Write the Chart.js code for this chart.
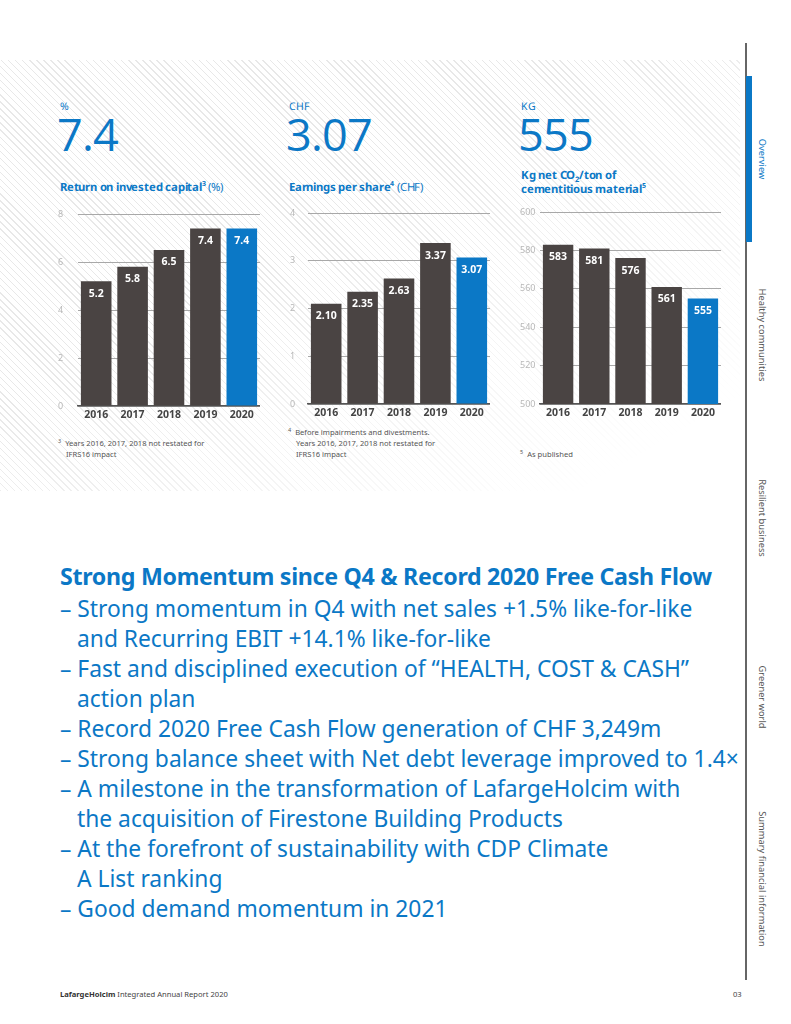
<!DOCTYPE html>
<html>
<head>
<meta charset="utf-8">
<script src="https://cdn.jsdelivr.net/npm/chart.js@4.4.1/dist/chart.umd.min.js"></script>
<style>
  @font-face { font-family:'BigNum'; src: local('Open Sans Regular'), local('OpenSans-Regular'), local('Open Sans');
    ascent-override:75%; descent-override:0%; line-gap-override:0%; }
  @font-face { font-family:'UnitFont'; src: local('Noto Sans Regular'), local('NotoSans-Regular'), local('Noto Sans');
    ascent-override:80%; descent-override:5%; line-gap-override:0%; }
  @font-face { font-family:'SubFont'; font-weight:700; src: local('Noto Sans Bold'), local('NotoSans-Bold');
    ascent-override:85%; descent-override:20%; line-gap-override:0%; }
  @font-face { font-family:'SubFont'; font-weight:400; src: local('Noto Sans Regular'), local('NotoSans-Regular'), local('Noto Sans');
    ascent-override:85%; descent-override:20%; line-gap-override:0%; }
  html, body { margin:0; padding:0; background:#fff; }
  body { width:791px; height:1024px; position:relative; overflow:hidden; font-family:"Noto Sans","Open Sans",sans-serif; }
  .abs { position:absolute; }
  .hatch { left:0; top:60px; width:740px; height:431px;
    background: repeating-linear-gradient(45deg, #e8e8e8 0px, #e8e8e8 1px, rgba(255,255,255,0) 1px, rgba(255,255,255,0) 5px);
    -webkit-mask-image: linear-gradient(to bottom right, #000 40%, rgba(0,0,0,0) 90%);
    mask-image: linear-gradient(to bottom right, #000 40%, rgba(0,0,0,0) 90%); }
  .unit { font-family:'UnitFont',"Noto Sans",sans-serif; font-size:10.5px; color:#0b78c6; line-height:12px; }
  .big { font-family:'BigNum',"Open Sans",sans-serif; font-weight:400; font-size:45px; color:#0b78c6; line-height:1; letter-spacing:-1px; }
  .sub { font-family:'SubFont',"Noto Sans",sans-serif; font-size:11.3px; font-weight:700; color:#0b78c6; line-height:14px; letter-spacing:-0.2px; }
  .sub sup, .sub sub { line-height:0; }
  .sub span.r { font-weight:400; }
  .fn { font-size:7.6px; color:#555; line-height:11px; }
  .fn sup { font-size:5.5px; vertical-align:top; position:relative; top:-2px; margin-right:4px; }
  canvas { position:absolute; }
  .head { left:60px; top:560px; font-size:23.2px; font-weight:700; color:#0b78c6; letter-spacing:-0.3px; white-space:nowrap; }
  .bul { left:60px; top:594px; font-size:22.8px; color:#0b78c6; line-height:30px; }
  .bul div { padding-left:17px; text-indent:-17px; white-space:nowrap; }
  .side { writing-mode:vertical-rl; font-size:9.3px; color:#555; white-space:nowrap; transform:translate(-50%,-50%); }
  .foot { left:60px; top:989px; font-size:7.6px; color:#444; }
</style>
</head>
<body>
<div class="abs hatch"></div>

<!-- KPI headers -->
<div class="abs unit" style="left:60px;top:101px;">%</div>
<div class="abs big" style="left:57px;top:112px;">7.4</div>
<div class="abs sub" style="left:60px;top:180px;">Return on invested capital<sup style="font-size:7px">3</sup> <span class="r">(%)</span></div>

<div class="abs unit" style="left:289px;top:101px;">CHF</div>
<div class="abs big" style="left:286px;top:112px;">3.07</div>
<div class="abs sub" style="left:289px;top:180px;">Earnings per share<sup style="font-size:7px">4</sup> <span class="r">(CHF)</span></div>

<div class="abs unit" style="left:521px;top:101px;">KG</div>
<div class="abs big" style="left:518px;top:112px;">555</div>
<div class="abs sub" style="left:521px;top:168px;">Kg net CO<sub style="font-size:7.5px">2</sub>/ton of<br>cementitious material<sup style="font-size:7px">5</sup></div>

<canvas id="c1" width="202" height="228" style="left:58px;top:198px;"></canvas>
<canvas id="c2" width="200" height="227" style="left:290px;top:197px;"></canvas>
<canvas id="c3" width="201" height="228" style="left:520px;top:196px;"></canvas>

<div class="abs fn" style="left:58px;top:438px;"><sup>3</sup>Years 2016, 2017, 2018 not restated for<br><span style="padding-left:8px">IFRS16 impact</span></div>
<div class="abs fn" style="left:288px;top:427px;"><sup>4</sup>Before impairments and divestments.<br><span style="padding-left:8px">Years 2016, 2017, 2018 not restated for</span><br><span style="padding-left:8px">IFRS16 impact</span></div>
<div class="abs fn" style="left:520px;top:449px;"><sup>5</sup>As published</div>

<!-- Body text -->
<div class="abs head">Strong Momentum since Q4 &amp; Record 2020 Free Cash Flow</div>
<div class="abs bul">
  <div>– Strong momentum in Q4 with net sales +1.5% like-for-like<br>and Recurring EBIT +14.1% like-for-like</div>
  <div>– Fast and disciplined execution of “HEALTH, COST &amp; CASH”<br>action plan</div>
  <div>– Record 2020 Free Cash Flow generation of CHF 3,249m</div>
  <div>– Strong balance sheet with Net debt leverage improved to 1.4×</div>
  <div>– A milestone in the transformation of LafargeHolcim with<br>the acquisition of Firestone Building Products</div>
  <div>– At the forefront of sustainability with CDP Climate<br>A List ranking</div>
  <div>– Good demand momentum in 2021</div>
</div>

<!-- Sidebar -->
<div class="abs" style="left:745px;top:43px;width:1.5px;height:937px;background:#666;"></div>
<div class="abs" style="left:746px;top:76px;width:6px;height:166px;background:#0b78c6;"></div>
<div class="abs side" style="left:762px;top:159px;color:#0b78c6;">Overview</div>
<div class="abs side" style="left:762px;top:335px;">Healthy communities</div>
<div class="abs side" style="left:762px;top:518px;">Resilient business</div>
<div class="abs side" style="left:762px;top:697px;">Greener world</div>
<div class="abs side" style="left:762px;top:879px;">Summary financial information</div>

<!-- Footer -->
<div class="abs foot"><b style="color:#333">LafargeHolcim</b> Integrated Annual Report 2020</div>
<div class="abs foot" style="left:733px;">03</div>

<script>
// ---- Data ----
const years = ['2016', '2017', '2018', '2019', '2020'];

const roicValues = [5.2, 5.8, 6.5, 7.4, 7.4];
const roicLabels = ['5.2', '5.8', '6.5', '7.4', '7.4'];
const roicTicks = { min: 0, max: 8, step: 2 };

const epsValues = [2.10, 2.35, 2.63, 3.37, 3.07];
const epsLabels = ['2.10', '2.35', '2.63', '3.37', '3.07'];
const epsTicks = { min: 0, max: 4, step: 1 };

const co2Values = [583, 581, 576, 561, 555];
const co2Labels = ['583', '581', '576', '561', '555'];
const co2Ticks = { min: 500, max: 600, step: 20 };

// ---- Styling ----
const DARK = '#4a4443';
const BLUE = '#0b78c6';
const barColors = years.map((y, i) => i === years.length - 1 ? BLUE : DARK);

function makeChart(id, values, labels, ticks, axisWidth) {
  const labelPlugin = {
    id: 'valueLabels_' + id,
    afterDatasetsDraw(chart) {
      const ctx = chart.ctx;
      const meta = chart.getDatasetMeta(0);
      ctx.save();
      ctx.fillStyle = '#ffffff';
      ctx.font = 'bold 10.5px "Noto Sans", sans-serif';
      ctx.textAlign = 'center';
      ctx.textBaseline = 'middle';
      meta.data.forEach((bar, i) => {
        ctx.fillText(labels[i], bar.x, bar.y + 12.5);
      });
      ctx.restore();
    }
  };
  return new Chart(document.getElementById(id), {
    type: 'bar',
    data: {
      labels: years,
      datasets: [{
        data: values,
        backgroundColor: barColors,
        borderWidth: 0,
        barPercentage: 0.84,
        categoryPercentage: 1.0
      }]
    },
    options: {
      responsive: false,
      animation: false,
      devicePixelRatio: 1,
      layout: { padding: { top: 16, right: 0, bottom: 0, left: 0 } },
      plugins: { legend: { display: false }, tooltip: { enabled: false } },
      scales: {
        x: {
          grid: { display: false, drawTicks: false },
          border: { display: true, color: '#555', width: 1.5 },
          ticks: { color: '#444', font: { family: '"Noto Sans", sans-serif', size: 10.5, weight: 'bold' }, padding: 3 },
          afterFit(scale) { scale.height = 20; }
        },
        y: {
          min: ticks.min, max: ticks.max,
          grid: { color: '#a8a8a8', lineWidth: 1, drawTicks: false },
          border: { display: false },
          ticks: { stepSize: ticks.step, color: '#b8b8b8', crossAlign: 'far', padding: 0,
                   font: { family: '"Noto Sans", sans-serif', size: 9 } },
          afterFit(scale) { scale.width = axisWidth; }
        }
      }
    },
    plugins: [labelPlugin]
  });
}

makeChart('c1', roicValues, roicLabels, roicTicks, 20);
makeChart('c2', epsValues, epsLabels, epsTicks, 18);
makeChart('c3', co2Values, co2Labels, co2Ticks, 20);
</script>
</body>
</html>
